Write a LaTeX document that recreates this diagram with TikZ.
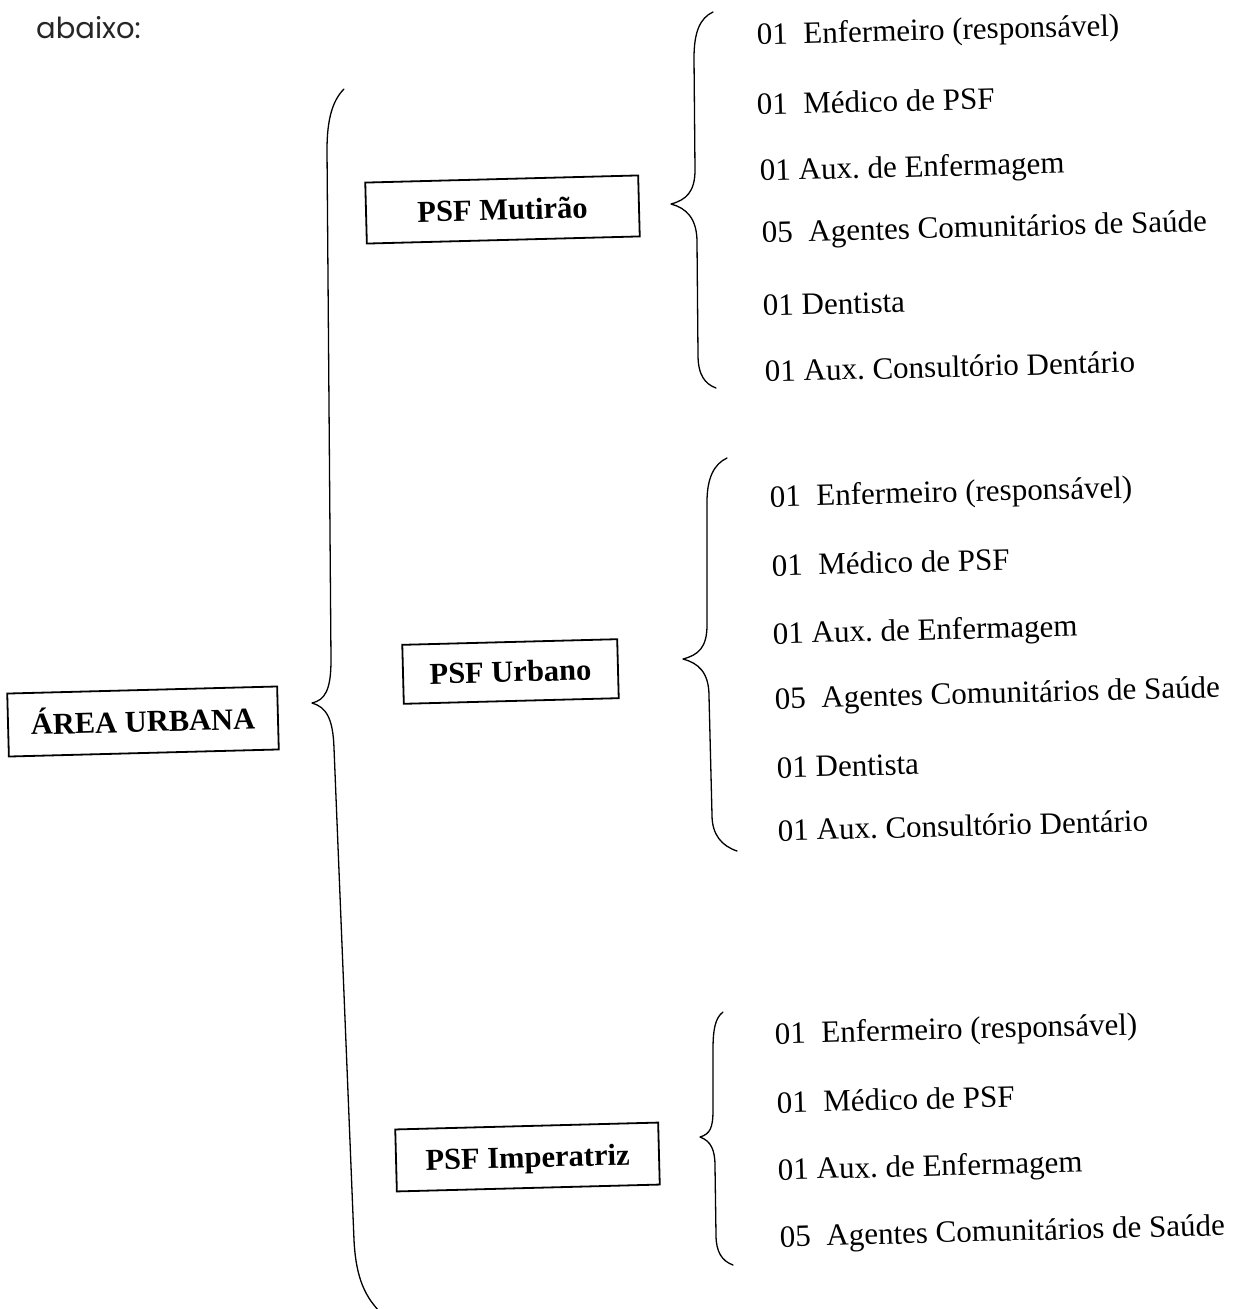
\documentclass[tikz,border=0pt]{standalone}
\usepackage{fontspec}
\setmainfont{Liberation Serif}
\newfontfamily\abfont{Poppins}
\frenchspacing
\tikzset{
  skew/.style={rotate=1.5},
  boxlabel/.style={skew, draw, line width=1.8pt, inner sep=0pt, align=center,
    font=\fontsize{30.5}{36}\selectfont\bfseries, text height=21pt, text depth=0pt},
  itemtext/.style={skew, anchor=base west, inner sep=0pt,
    font=\fontsize{31}{37}\selectfont},
  bracelin/.style={line width=1.3pt, line cap=round, line join=round}
}
\begin{document}
\begin{tikzpicture}[x=1pt,y=-1pt]
\useasboundingbox (0,0) rectangle (1233,1309);
\fill[white] (0,0) rectangle (1233,1309);

\node[anchor=base west, inner sep=0pt, font=\abfont\fontsize{29}{33}\selectfont, text=black!85] (abaixo) at (36,38) {abaixo:};

% boxes
\node[boxlabel, minimum width=270pt, minimum height=63pt] (area) at (143,721.5) {ÁREA URBANA};
\node[boxlabel, minimum width=273pt, minimum height=61pt] (mut) at (502.5,209.5) {PSF Mutirão};
\node[boxlabel, minimum width=215pt, minimum height=59pt] (urb) at (510.5,671.5) {PSF Urbano};
\node[boxlabel, minimum width=263pt, minimum height=62pt] (imp) at (527.5,1157) {PSF Imperatriz};

% big brace
\draw[bracelin] (344,89) .. controls (333,100) and (327,118) .. (327,150)
  -- (331,660) .. controls (331,690) and (325,700) .. (312,703)
  .. controls (326,707) and (333,718) .. (334,748)
  -- (354,1240) .. controls (356,1280) and (366,1298) .. (382,1314);

% brace Mutirao
\draw[bracelin] (713,12) .. controls (700,18) and (694,32) .. (694,58)
  -- (695,170) .. controls (695,192) and (686,200) .. (671,204)
  .. controls (686,208) and (697,218) .. (697,242)
  -- (698,355) .. controls (698,375) and (705,384) .. (716,388);

% brace Urbano
\draw[bracelin] (727,458) .. controls (714,464) and (707,478) .. (707,502)
  -- (707,625) .. controls (707,648) and (698,655) .. (683,659)
  .. controls (698,663) and (709,672) .. (709,696)
  -- (712,815) .. controls (712,835) and (722,846) .. (737,851);

% brace Imperatriz
\draw[bracelin] (723,1012) .. controls (715,1018) and (713,1030) .. (713,1050)
  -- (713,1110) .. controls (713,1128) and (710,1134) .. (700,1137)
  .. controls (711,1141) and (715,1150) .. (715,1166)
  -- (716,1235) .. controls (716,1252) and (722,1261) .. (733,1265);

% list Mutirao
\node[itemtext] (m1) at (757,45)  {01~~Enfermeiro (responsável)};
\node[itemtext] (m2) at (757,115) {01~~Médico de PSF};
\node[itemtext] (m3) at (760,181) {01 Aux. de Enfermagem};
\node[itemtext] (m4) at (762,243) {05~~Agentes Comunitários de Saúde};
\node[itemtext] (m5) at (763,316) {01 Dentista};
\node[itemtext] (m6) at (765,382) {01 Aux. Consultório Dentário};

% list Urbano
\node[itemtext] (u1) at (770,507) {01~~Enfermeiro (responsável)};
\node[itemtext] (u2) at (772,576) {01~~Médico de PSF};
\node[itemtext] (u3) at (773,644) {01 Aux. de Enfermagem};
\node[itemtext] (u4) at (775,709) {05~~Agentes Comunitários de Saúde};
\node[itemtext] (u5) at (777,778) {01 Dentista};
\node[itemtext] (u6) at (778,841) {01 Aux. Consultório Dentário};

% list Imperatriz
\node[itemtext] (i1) at (775,1044) {01~~Enfermeiro (responsável)};
\node[itemtext] (i2) at (777,1113) {01~~Médico de PSF};
\node[itemtext] (i3) at (778,1180) {01 Aux. de Enfermagem};
\node[itemtext] (i4) at (780,1247) {05~~Agentes Comunitários de Saúde};
\end{tikzpicture}
\end{document}
